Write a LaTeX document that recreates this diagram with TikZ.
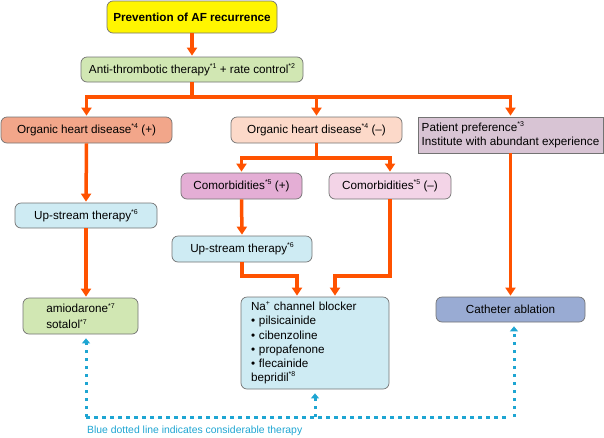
\documentclass[tikz,border=0pt]{standalone}
\usepackage{fontspec}
\setmainfont{Liberation Sans}
\usetikzlibrary{arrows.meta}
\definecolor{flowred}{HTML}{FF5200}
\definecolor{dotblue}{HTML}{1EA5D2}
\definecolor{topyellow}{HTML}{FFF500}
\definecolor{softgreen}{HTML}{D1E7B3}
\definecolor{ohdplus}{HTML}{F2A68A}
\definecolor{ohdminus}{HTML}{FCD9C9}
\definecolor{prefgrey}{HTML}{D8C4D4}
\definecolor{comorbplus}{HTML}{E4AED5}
\definecolor{comorbminus}{HTML}{F3D4E7}
\definecolor{upblue}{HTML}{CEEBF3}
\definecolor{cathblue}{HTML}{99ABD3}
\newcommand{\fnote}[1]{\raisebox{0.75ex}{\fontsize{7}{7}\selectfont #1}}

\begin{document}
\begin{tikzpicture}[x=1pt,y=-1pt,
		>={Triangle[width=10pt,length=8pt]},
		box/.style={draw=black!55,line width=0.7pt,rounded corners=6pt,inner sep=2pt,
			font=\fontsize{11.7}{14.2}\selectfont},
		flow/.style={draw=flowred,line width=3.5pt,->,shorten >=1pt},
		consider/.style={draw=dotblue,line width=3pt,dash pattern=on 3.5pt off 4.5pt,
			>={Triangle[width=8pt,length=5pt]},->,shorten >=4pt}]
			\useasboundingbox (0,0) rectangle (604,437);

			\node[box,fill=topyellow,minimum width=170,minimum height=32,font=\fontsize{11.7}{14.2}\selectfont\bfseries] (prevent) at (192,17) {Prevention of AF recurrence};
			\node[box,fill=softgreen,minimum width=222,minimum height=25] (antithromb) at (192,69.5) {Anti-thrombotic therapy\fnote{*1} + rate control\fnote{*2}};

			\node[box,fill=ohdplus,minimum width=171,minimum height=26] (organicplus) at (86.5,130) {Organic heart disease\fnote{*4} (+)};
			\node[box,fill=ohdminus,minimum width=171,minimum height=26] (organicminus) at (316.5,130) {Organic heart disease\fnote{*4} (–)};
			\node[box,rounded corners=0pt,fill=prefgrey,minimum width=185,minimum height=36,inner xsep=2pt,align=left] (pref) at (510.5,135) {Patient preference\fnote{*3}\\Institute with abundant experience};

			\node[box,fill=comorbplus,minimum width=121,minimum height=26] (comorbplus) at (241.5,186) {Comorbidities\fnote{*5} (+)};
			\node[box,fill=comorbminus,minimum width=122,minimum height=26] (comorbminus) at (390,186) {Comorbidities\fnote{*5} (–)};

			\node[box,fill=upblue,minimum width=142,minimum height=25] (upleft) at (86,215.5) {Up-stream therapy\fnote{*6}};
			\node[box,fill=upblue,minimum width=140,minimum height=26] (upmid) at (242,249) {Up-stream therapy\fnote{*6}};

			\node[box,fill=softgreen,minimum width=115,minimum height=36,align=left,font=\fontsize{11.7}{16}\selectfont] (amio) at (80.5,316) {amiodarone\fnote{*7}\\sotalol\fnote{*7}};
			\node[box,fill=upblue,minimum width=148,minimum height=92,inner xsep=10pt,text width=128,align=left] (natrium) at (315,343) {Na\fnote{+} channel blocker\\• pilsicainide\\• cibenzoline\\• propafenone\\• flecainide\\bepridil\fnote{*8}};
			\node[box,fill=cathblue,minimum width=149,minimum height=25] (cath) at (510.5,309.5) {Catheter ablation};

			\coordinate (split) at (192,97);
			\coordinate (splitminus) at (316.5,158);
			\coordinate (joinl) at (297,276);
			\coordinate (joinr) at (335,276);

			\draw[flow] (prevent.south) -- (antithromb.north);
			\draw[flow,-] (antithromb.south) -- (split);
			\draw[flow] (split) -| (organicplus.north);
			\draw[flow] (split) -| (organicminus.north);
			\draw[flow] (split) -| (pref.north);

			\draw[flow] (organicplus.south) -- (upleft.north);
			\draw[flow] (upleft.south) -- (upleft.south |- amio.north);

			\draw[flow,-] (organicminus.south) -- (splitminus);
			\draw[flow] (splitminus) -| (comorbplus.north);
			\draw[flow] (splitminus) -| (comorbminus.north);
			\draw[flow] (comorbplus.south) -- (upmid.north);
			\draw[flow] (upmid.south) |- (joinl) -- (joinl |- natrium.north);
			\draw[flow] (comorbminus.south) |- (joinr) -- (joinr |- natrium.north);

			\draw[flow] (pref.south) -- (cath.north);

			\coordinate (dotl) at (86,417);
			\coordinate (dotm) at (315,417);
			\coordinate (dotr) at (514,417);
			\draw[consider,-] (dotl) -- (dotr);
			\draw[consider] (dotl) -- (dotl |- amio.south);
			\draw[consider] (dotm) -- (natrium.south);
			\draw[consider] (dotr) -- (dotr |- cath.south);

			\node[anchor=west,inner sep=0pt,text=dotblue,font=\fontsize{10.4}{12}\selectfont] (note) at (87,431) {Blue dotted line indicates considerable therapy};
		\end{tikzpicture}
\end{document}
